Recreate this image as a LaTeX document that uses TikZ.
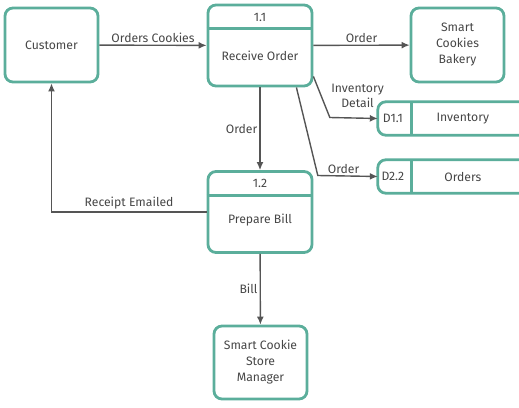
\documentclass[tikz,border=0pt]{standalone}
\usepackage{fontspec}
\setmainfont{Fira Sans}
\usetikzlibrary{arrows.meta,positioning}
\definecolor{teal}{RGB}{91,174,155}
\definecolor{ink}{RGB}{70,70,70}
\definecolor{wire}{RGB}{85,85,85}
\begin{document}
\begin{tikzpicture}[x=1pt, y=-1pt, font=\fontsize{12.2}{16}\selectfont, text=ink,
        entity/.style={draw=teal, line width=2.8pt, rounded corners=8pt, minimum width=93pt, minimum height=74pt, align=center},
        proc/.style={draw=teal, line width=2.8pt, rounded corners=8pt, minimum width=104pt, minimum height=81pt},
        flow/.style={draw=wire, line width=1.4pt, -{Latex[length=8pt, width=7pt]}},
        lbl/.style={font=\fontsize{12.2}{14.5}\selectfont, align=center, inner sep=2pt}]
        \useasboundingbox (0,0) rectangle (519,407);

        % external entities
        \node[entity] (cust) at (51.5,45) {Customer};
        \node[entity] (bakery) at (457.5,45) {Smart\\Cookies\\Bakery};
        \node[entity, minimum height=73pt] (mgr) at (260.5,362.5) {Smart Cookie\\Store\\Manager};

        % processes
        \node[proc] (p11) at (260,45.5) {};
        \node at ([yshift=-14pt]p11.north) {1.1};
        \node at ([yshift=-52pt]p11.north) {Receive Order};
        \draw[teal, line width=2.8pt] ([yshift=-25pt]p11.north west) -- ([yshift=-25pt]p11.north east);

        \node[proc] (p12) at (260,212) {};
        \node at ([yshift=-13pt]p12.north) {1.2};
        \node at ([yshift=-50pt]p12.north) {Prepare Bill};
        \draw[teal, line width=2.8pt] ([yshift=-25pt]p12.north west) -- ([yshift=-25pt]p12.north east);

        % data stores
        \node[minimum width=141pt, minimum height=33pt, inner sep=0pt] (d11) at (448.5,118.5) {};
        \draw[teal, line width=2.8pt, rounded corners=8pt] (d11.north east) -- (d11.north west) -- (d11.south west) -- (d11.south east);
        \draw[teal, line width=2.8pt] ([xshift=34pt]d11.north west) -- ([xshift=34pt]d11.south west);
        \node at ([xshift=15pt]d11.west) {D1.1};
        \node at ([xshift=85pt]d11.west) {Inventory};

        \node[minimum width=141pt, minimum height=33pt, inner sep=0pt] (d22) at (448.5,176.5) {};
        \draw[teal, line width=2.8pt, rounded corners=8pt] (d22.north east) -- (d22.north west) -- (d22.south west) -- (d22.south east);
        \draw[teal, line width=2.8pt] ([xshift=34pt]d22.north west) -- ([xshift=34pt]d22.south west);
        \node at ([xshift=15pt]d22.west) {D2.2};
        \node at ([xshift=85pt]d22.west) {Orders};

        % data flows
        \draw[flow] (cust) -- (p11) node[lbl, midway, above] {Orders Cookies};
        \draw[flow] (p11) -- (bakery) node[lbl, midway, above] {Order};
        \draw[flow] (p11) -- (p12) node[lbl, midway, left] {Order};
        \draw[flow] ([yshift=11pt]p11.south east) -- node[lbl, midway, right=7pt, yshift=1pt] {Inventory\\Detail} ([xshift=-48pt, yshift=1pt]d11.west) -- (d11.west);
        \draw[flow] ([xshift=-17pt]p11.south east) -- ([xshift=-60pt, yshift=1pt]d22.west) -- node[lbl, pos=0.43, above] {Order} (d22.west);
        \draw[flow] (p12.west) -| node[lbl, pos=0.25, above] {Receipt Emailed} (cust.south);
        \draw[flow] (p12) -- (mgr) node[lbl, midway, left] {Bill};
    \end{tikzpicture}
\end{document}
